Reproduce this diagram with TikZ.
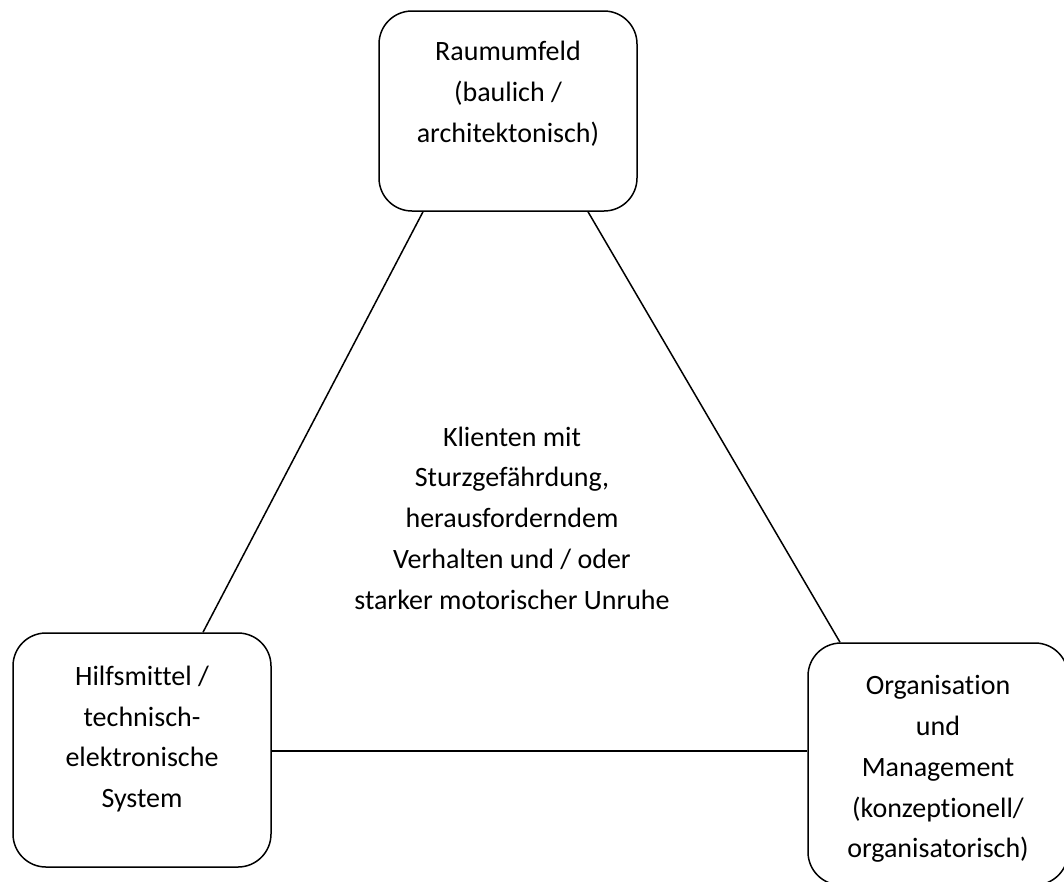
\documentclass[tikz,border=0pt]{standalone}
\usepackage{fontspec}
\setmainfont[Ligatures={NoCommon,NoRare}]{Carlito}
\usetikzlibrary{calc}
\tikzset{
  box/.style={draw, line width=1.5pt, rounded corners=33pt, inner sep=0pt},
  txt/.style={align=center, inner sep=0pt, font=\fontsize{28}{40.8}\selectfont},
  conn/.style={line width=1.5pt}
}
\begin{document}
\begin{tikzpicture}[x=1pt,y=-1pt]
\useasboundingbox (0,0) rectangle (1064,881);
\clip (0,0) rectangle (1064,881);
\node[box, minimum width=258pt, minimum height=200pt] (raum) at (508,111) {};
\node[box, minimum width=258pt, minimum height=234pt] (hilf) at (142,750) {};
\node[box, minimum width=260pt, minimum height=242pt] (org) at (938,764) {};
\node[txt] (raumtxt) at (508,94) {Raumumfeld\\(baulich /\\architektonisch)};
\node[txt] (hilftxt) at (142,739) {Hilfsmittel /\\technisch-\\elektronische\\System};
\node[txt] (orgtxt) at (938,769) {Organisation\\und\\Management\\(konzeptionell/\\organisatorisch)};
\node[txt] (mitte) at (512,518) {Klienten mit\\Sturzgefährdung,\\herausforderndem\\Verhalten und / oder\\starker motorischer Unruhe};
\draw[conn] ($(raum.south)+(-85,0)$) -- ($(hilf.north)+(61,0)$);
\draw[conn] ($(raum.south)+(80,0)$) -- ($(org.north)+(-98,0)$);
\draw[conn] ($(hilf.east)+(0,1)$) -- ($(org.west |- hilf.east)+(0,1)$);
\end{tikzpicture}
\end{document}
